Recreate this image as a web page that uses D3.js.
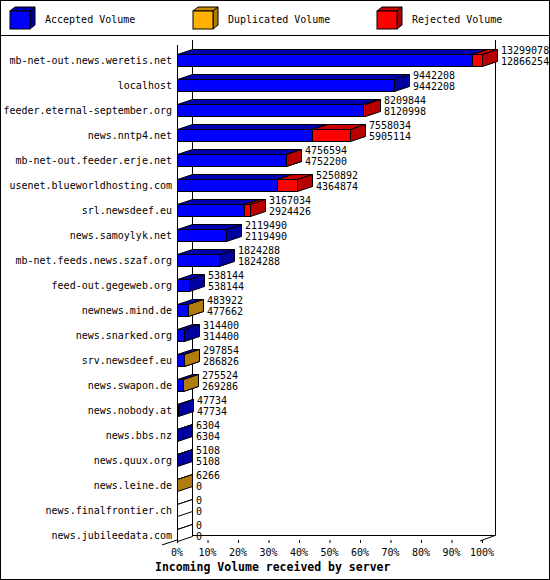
<!DOCTYPE html><html><head><meta charset="utf-8"><script src="https://cdn.jsdelivr.net/npm/d3@7"></script>
<style>body{margin:0;background:#fff}text{font-family:"DejaVu Sans Mono",monospace;font-size:10px}</style></head><body><svg id="c" width="550" height="580"></svg>
<script>
const servers=["mb-net-out.news.weretis.net","localhost","feeder.eternal-september.org","news.nntp4.net","mb-net-out.feeder.erje.net","usenet.blueworldhosting.com","srl.newsdeef.eu","news.samoylyk.net","mb-net.feeds.news.szaf.org","feed-out.gegeweb.org","newnews.mind.de","news.snarked.org","srv.newsdeef.eu","news.swapon.de","news.nobody.at","news.bbs.nz","news.quux.org","news.leine.de","news.finalfrontier.ch","news.jubileedata.com"];
const offered=[13299078,9442208,8209844,7558034,4756594,5250892,3167034,2119490,1824288,538144,483922,314400,297854,275524,47734,6304,5108,6266,0,0];
const accepted=[12866254,9442208,8120998,5905114,4752200,4364874,2924426,2119490,1824288,538144,477662,314400,286826,269286,47734,6304,5108,0,0,0];
const kind=["rej","rej","rej","rej","rej","rej","rej","rej","rej","rej","dup","rej","dup","dup","rej","rej","rej","dup","rej","rej"];
const ticks=[0,10,20,30,40,50,60,70,80,90,100];
const legend=[["Accepted Volume","#0000ff","#0000b4","#00009c"],["Duplicated Volume","#ffb000","#c88c00","#b07c00"],["Rejected Volume","#ff0000","#c80000","#b00000"]];
const col={acc:["#0000ff","#0000b0","#0000a0"],rej:["#ff0000","#c80000","#b80000"],dup:["#ffb000","#b8800c","#b07c10"],zero:["#fff","#fff","#fff"]};
const svg=d3.select("#c");
svg.append("rect").attr("x",0.5).attr("y",0.5).attr("width",549).attr("height",579).attr("fill","none").attr("stroke","#000");
svg.append("line").attr("x1",0).attr("x2",550).attr("y1",35.5).attr("y2",35.5).attr("stroke","#000");
const lx=[10,193,377];
legend.forEach((l,i)=>{const x=lx[i],y=11,w=20,h=18,dx=5,dy=4;
 const g=svg.append("g").attr("stroke","#000");
 g.append("path").attr("d",`M${x},${y}L${x+dx},${y-dy}L${x+w+dx},${y-dy}L${x+w},${y}Z`).attr("fill",l[2]);
 g.append("path").attr("d",`M${x+w},${y}L${x+w+dx},${y-dy}L${x+w+dx},${y+h-dy}L${x+w},${y+h}Z`).attr("fill",l[3]);
 g.append("rect").attr("x",x).attr("y",y).attr("width",w).attr("height",h).attr("fill",l[1]);
 svg.append("text").attr("x",x+35).attr("y",y+12).text(l[0]);});
const max=d3.max(offered);
const x=d3.scaleLinear().domain([0,max]).range([177,482]);
const xp=d3.scaleLinear().domain([0,100]).range([177,482]);
const y=d3.scaleBand().domain(servers).range([47.5,547.5]);
const DX=15,DY=5;
// walls
svg.append("path").attr("d",`M192.5,40V535.5H495.5V40`).attr("fill","none").attr("stroke","#000");
svg.append("line").attr("x1",177.5).attr("x2",177.5).attr("y1",45).attr("y2",541).attr("stroke","#000");
svg.append("line").attr("x1",162).attr("y1",545).attr("x2",192).attr("y2",535).attr("stroke","#000");
svg.append("line").attr("x1",480).attr("y1",541).attr("x2",495).attr("y2",535.5).attr("stroke","#000");
ticks.forEach(t=>{svg.append("line").attr("x1",xp(t)+0.5).attr("x2",xp(t)+0.5).attr("y1",540).attr("y2",543).attr("stroke","#000");
 svg.append("text").attr("x",xp(t)).attr("y",556).attr("text-anchor","middle").text(t+"%");});
function box(x0,x1,yt,h,c){const g=svg.append("g").attr("stroke","#000").attr("stroke-width",1);
 g.append("path").attr("d",`M${x0},${yt}L${x0+DX},${yt-DY}L${x1+DX},${yt-DY}L${x1},${yt}Z`).attr("fill",c[1]);
 g.append("path").attr("d",`M${x1},${yt}L${x1+DX},${yt-DY}L${x1+DX},${yt+h-DY}L${x1},${yt+h}Z`).attr("fill",c[2]);
 g.append("rect").attr("x",x0).attr("y",yt).attr("width",Math.max(0,x1-x0)).attr("height",h).attr("fill",c[0]);}
servers.forEach((s,i)=>{const cy=y(s)+y.bandwidth()/2,yt=Math.round(cy-6)+0.5,h=12;
 svg.append("text").attr("x",172).attr("y",cy+4).attr("text-anchor","end").text(s);
 const a=x(accepted[i]),o=x(offered[i]);
 if(offered[i]===0){box(177.5,177.5,yt,h,col.zero);}
 else{ if(accepted[i]>0)box(177.5,Math.round(a)+0.5,yt,h,col.acc);
  if(offered[i]>accepted[i])box(accepted[i]>0?Math.round(a)+0.5:177.5,Math.max(Math.round(o),Math.round(a))+0.5,yt,h,col[kind[i]]);}
 const tx=Math.round(o)+DX+4;
 svg.append("text").attr("x",tx).attr("y",yt-1).text(offered[i]);
 svg.append("text").attr("x",tx).attr("y",yt+10).text(accepted[i]);});
svg.append("text").attr("x",155).attr("y",571).style("font-weight","bold").style("font-size","11.5px").text("Incoming Volume received by server");
</script></body></html>
